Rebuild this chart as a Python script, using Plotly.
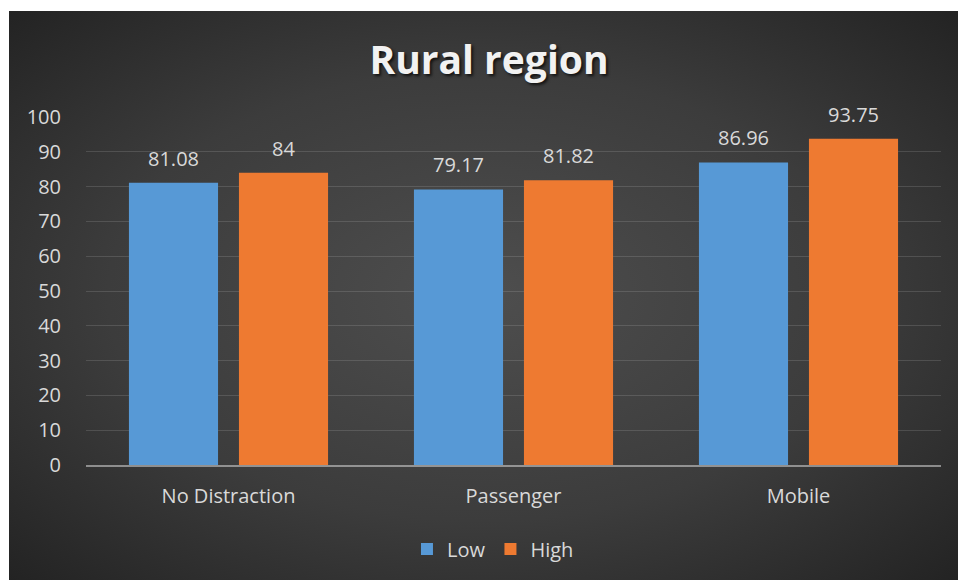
import base64
import plotly.graph_objects as go

# Chart data
categories = ["No Distraction", "Passenger", "Mobile"]
low_values = [81.08, 79.17, 86.96]
high_values = [84, 81.82, 93.75]
series_names = ["Low", "High"]
y_ticks = [0, 10, 20, 30, 40, 50, 60, 70, 80, 90, 100]

W, H = 958, 580
ML, MR, MT, MB = 86, 17, 117, 115
PW, PH = W - ML - MR, H - MT - MB

BARGAP = 0.228
BARGROUPGAP = 0.19

# Dark radial-gradient chart background as an SVG
bg_svg = (
    '<svg xmlns="http://www.w3.org/2000/svg" width="949" height="569">'
    '<defs><radialGradient id="g" cx="50%" cy="50%" r="72%">'
    '<stop offset="0" stop-color="#4e4e4e"/>'
    '<stop offset="0.55" stop-color="#3c3c3c"/>'
    '<stop offset="1" stop-color="#222222"/>'
    '</radialGradient></defs>'
    '<rect width="949" height="569" fill="url(#g)"/></svg>'
)
bg_uri = "data:image/svg+xml;base64," + base64.b64encode(bg_svg.encode()).decode()

FONT = "'Open Sans', sans-serif"
label_font = dict(family=FONT, size=20, color="#d9d9d9")

series = [
    (series_names[0], low_values, "#5799d6"),
    (series_names[1], high_values, "#ee7a31"),
]

fig = go.Figure()
for name, vals, color in series:
    fig.add_trace(go.Bar(
        name=name, x=categories, y=vals,
        marker=dict(color=color, line=dict(width=0)),
    ))

# Value labels above each bar, shifted to the bar's slot within its group
cat_px = PW / len(categories)
slot_px = cat_px * (1 - BARGAP) / len(series)
annotations = []
for i, (name, vals, color) in enumerate(series):
    shift = (i - (len(series) - 1) / 2) * slot_px
    for cat, v in zip(categories, vals):
        annotations.append(dict(
            x=cat, y=v, xref="x", yref="y", text=f"{v:g}", showarrow=False,
            xanchor="center", yanchor="bottom", xshift=shift, yshift=9,
            font=dict(family=FONT, size=20, color="#d9d9d9"),
        ))

fig.update_layout(
    width=W, height=H,
    margin=dict(l=ML, r=MR, t=MT, b=MB, pad=0),
    paper_bgcolor="white",
    plot_bgcolor="rgba(0,0,0,0)",
    barmode="group",
    bargap=BARGAP,
    bargroupgap=BARGROUPGAP,
    title=dict(
        text="<b>Rural region</b>",
        x=489 / W, xanchor="center", xref="container",
        y=1 - 60 / H, yanchor="middle",
        font=dict(family=FONT, size=39, color="#f2f2f2",
                  shadow="2px 2px 3px rgba(0,0,0,0.7)"),
    ),
    showlegend=True,
    legend=dict(
        orientation="h", x=0.476, xanchor="center",
        y=-(549 - (H - MB)) / PH, yanchor="middle",
        font=dict(family=FONT, size=20, color="#d9d9d9"),
        bgcolor="rgba(0,0,0,0)", itemwidth=30,
    ),
    xaxis=dict(
        showgrid=False, tickfont=label_font,
        ticks="outside", ticklen=12, tickcolor="rgba(0,0,0,0)",
        showline=True, linecolor="rgba(217,217,217,0.55)", linewidth=2,
        zeroline=False,
    ),
    yaxis=dict(
        range=[0, 100], tickvals=y_ticks, tickfont=label_font,
        showgrid=True, gridcolor="rgba(217,217,217,0.16)", gridwidth=1,
        zeroline=False, showline=False, ticks="outside", ticklen=20,
        tickcolor="rgba(0,0,0,0)",
    ),
    annotations=annotations,
    images=[dict(
        source=bg_uri, xref="paper", yref="paper",
        x=(9 - ML) / PW, y=1 + (MT - 11) / PH,
        sizex=(W - 9) / PW, sizey=(H - 11) / PH,
        sizing="stretch", xanchor="left", yanchor="top", layer="below",
    )],
)

fig.write_html("out.html")
